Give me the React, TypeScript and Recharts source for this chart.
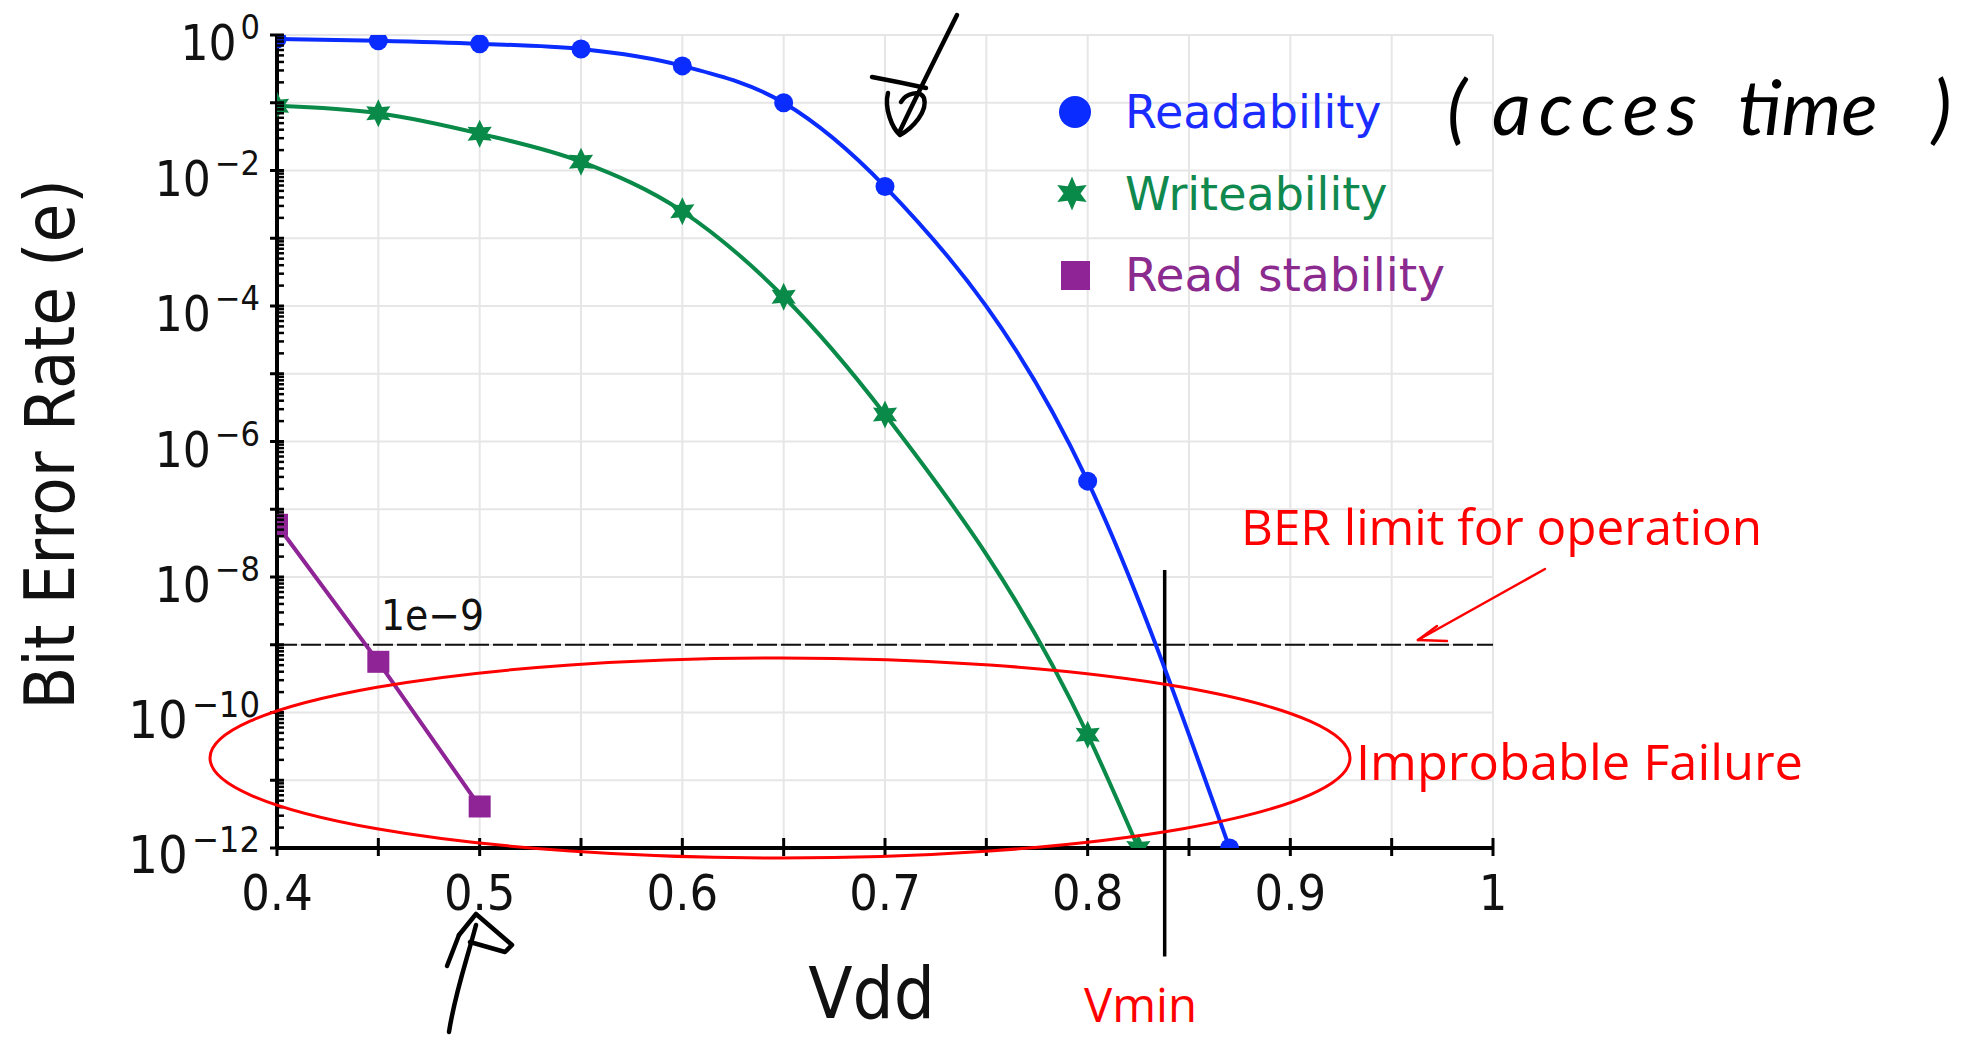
import React from 'react';
import { LineChart, Line, XAxis, YAxis, CartesianGrid, ReferenceLine, Legend, Label } from 'recharts';

// ---- data ----
const readVdd = [0.4, 0.45, 0.5, 0.55, 0.6, 0.65, 0.7, 0.8, 0.87];
const readBer = [0.87, 0.82, 0.74, 0.62, 0.35, 0.1, 5.8e-3, 2.6e-7, 1e-12];
const writeVdd = [0.4, 0.45, 0.5, 0.55, 0.6, 0.65, 0.7, 0.8, 0.825];
const writeBer = [0.09, 0.07, 0.035, 0.0135, 2.5e-3, 1.37e-4, 2.5e-6, 4.7e-11, 1e-12];
const stabVdd = [0.4, 0.45, 0.5];
const stabBer = [5.9e-8, 5.6e-10, 4.1e-12];

const xTicks = [0.4, 0.45, 0.5, 0.55, 0.6, 0.65, 0.7, 0.75, 0.8, 0.85, 0.9, 0.95, 1];
const decadeExps = [0, -1, -2, -3, -4, -5, -6, -7, -8, -9, -10, -11, -12];
const minorMults = [2, 3, 4, 5, 6, 7, 8, 9];
const berLimit = 1e-9;
const vminX = 0.838;
const vminTop = 1.27e-8;
const vminBottom = 2.5e-14;

const seriesNames = ['Readability', 'Writeability', 'Read stability'];
const seriesColors = ['#0b2cff', '#0a8a48', '#8e2496'];
const legendTextColors = ['#1a2cff', '#10894f', '#8b2a8f'];

const decadeValues = decadeExps.map((e) => Math.pow(10, e));
const yTicks = [
  ...decadeValues,
  ...decadeExps.filter((e) => e < 0).flatMap((e) => minorMults.map((k) => k * Math.pow(10, e))),
].sort((a, b) => a - b);

const readData = readVdd.map((x, i) => ({ x, y: readBer[i] }));
const writeData = writeVdd.map((x, i) => ({ x, y: writeBer[i] }));
const stabData = stabVdd.map((x, i) => ({ x, y: stabBer[i] }));

const CF = "'DejaVu Sans Condensed', 'DejaVu Sans', sans-serif";
const SF = "'DejaVu Sans', Verdana, sans-serif";
const RF = "'Open Sans', 'DejaVu Sans', sans-serif";

const starPath = (cx: number, cy: number, ro: number, ri: number) => {
  let d = '';
  for (let i = 0; i < 12; i++) {
    const r = i % 2 === 0 ? ro : ri;
    const a = (Math.PI / 6) * i - Math.PI / 2;
    d += (i === 0 ? 'M' : 'L') + (cx + r * Math.cos(a)).toFixed(2) + ' ' + (cy + r * Math.sin(a)).toFixed(2);
  }
  return d + 'Z';
};

const CircleDot = (p: any) => <circle key={p.key} cx={p.cx} cy={p.cy} r={9.5} fill={seriesColors[0]} />;
const StarDot = (p: any) => <path key={p.key} d={starPath(p.cx, p.cy, 14, 7.3)} fill={seriesColors[1]} />;
const SquareDot = (p: any) => <rect key={p.key} x={p.cx - 11} y={p.cy - 11} width={22} height={22} fill={seriesColors[2]} />;

const YTick = (props: any) => {
  const { x, y, payload } = props;
  const lg = Math.log10(payload.value);
  const e = Math.round(lg);
  const decade = Math.abs(lg - e) < 1e-6;
  if (!decade) {
    return <line x1={x} x2={x + 7} y1={y} y2={y} stroke="#000" strokeWidth={2.5} />;
  }
  const big = e <= -10;
  return (
    <g>
      <line x1={x - 7} x2={x + 7} y1={y} y2={y} stroke="#000" strokeWidth={3} />
      {e % 2 === 0 && (
        <text x={x - 17} y={y + 25} textAnchor="end" fontFamily={CF} fill="#111">
          <tspan fontSize={big ? 52 : 49}>10</tspan>
          <tspan fontSize={big ? 36 : 34} dx={4} dy={-21}>{e === 0 ? '0' : '\u2212' + -e}</tspan>
        </text>
      )}
    </g>
  );
};

const XTick = (props: any) => {
  const { x, y, payload } = props;
  const v = payload.value;
  const major = Math.abs(v * 10 - Math.round(v * 10)) < 1e-6;
  return (
    <g>
      <line x1={x} x2={x} y1={y - 10} y2={y + 8} stroke="#000" strokeWidth={3} />
      {major && (
        <text x={x} y={y + 62} textAnchor="middle" fontFamily={CF} fontSize={50} fill="#111">
          {String(Math.round(v * 10) / 10)}
        </text>
      )}
    </g>
  );
};

const YTitle = (props: any) => {
  const vb = props.viewBox;
  const cx = vb.x + 50;
  const cy = vb.y + vb.height / 2 + 3;
  return (
    <text x={cx} y={cy} transform={`rotate(-90 ${cx} ${cy})`} textAnchor="middle" dominantBaseline="central" fontFamily={CF} fontSize={70} fill="#111">
      Bit Error Rate (e)
    </text>
  );
};

const XTitle = (props: any) => {
  const vb = props.viewBox;
  return (
    <text x={vb.x + vb.width / 2 - 13.5} y={vb.y + 170} textAnchor="middle" fontFamily={CF} fontSize={72} fill="#111">
      Vdd
    </text>
  );
};

const LimitLabel = (props: any) => {
  const vb = props.viewBox;
  return (
    <text x={vb.x + 104} y={vb.y - 15} fontFamily={CF} fontSize={42} fill="#111">
      1e{'\u2212'}9
    </text>
  );
};

const LegendContent = () => {
  const rows = [0, 1, 2];
  return (
    <svg width={520} height={260} style={{ display: 'block' }}>
      {rows.map((i) => {
        const cy = 52 + i * 81.5;
        const mx = 35;
        return (
          <g key={i}>
            {i === 0 && <circle cx={mx} cy={cy} r={16} fill={seriesColors[0]} />}
            {i === 1 && <path d={starPath(mx - 3, cy, 17, 8.5)} fill={seriesColors[1]} />}
            {i === 2 && <rect x={mx - 14} y={cy - 14} width={29} height={29} fill={seriesColors[2]} />}
            <text x={85} y={cy + 16} fontFamily={SF} fontSize={i === 2 ? 47 : 46} fill={legendTextColors[i]}>
              {seriesNames[i]}
            </text>
          </g>
        );
      })}
    </svg>
  );
};

const W = 1979;
const H = 1039;

export default function App() {
  return (
    <div style={{ position: 'fixed', left: 0, top: 0, width: W, height: H, background: '#fff' }}>
      <LineChart width={W} height={H} margin={{ top: 35, right: 486, bottom: 0, left: 0 }}>
        <CartesianGrid
          stroke="#e6e6e6"
          strokeWidth={2}
          horizontalValues={decadeValues}
          verticalValues={xTicks}
        />
        <XAxis
          dataKey="x"
          type="number"
          domain={[0.4, 1]}
          ticks={xTicks}
          interval={0}
          allowDataOverflow
          height={191}
          tickSize={0}
          tickMargin={0}
          tickLine={false}
          tick={<XTick />}
          axisLine={{ stroke: '#000', strokeWidth: 4 }}
          label={<Label content={XTitle} />}
        />
        <YAxis
          dataKey="y"
          type="number"
          scale="log"
          domain={[1e-12, 1]}
          ticks={yTicks}
          interval={0}
          allowDataOverflow
          width={277}
          tickSize={0}
          tickMargin={0}
          tickLine={false}
          tick={<YTick />}
          axisLine={{ stroke: '#000', strokeWidth: 4 }}
          label={<Label content={YTitle} />}
        />
        <Legend
          layout="vertical"
          align="center"
          verticalAlign="middle"
          content={<LegendContent />}
          wrapperStyle={{ position: 'absolute', left: 1040, top: 60, width: 520, height: 260 }}
        />
        <ReferenceLine
          y={berLimit}
          stroke="#111"
          strokeWidth={2}
          strokeDasharray="20 4"
          ifOverflow="visible"
          label={LimitLabel}
        />
        <ReferenceLine
          segment={[
            { x: vminX, y: vminTop },
            { x: vminX, y: vminBottom },
          ]}
          stroke="#000"
          strokeWidth={3.5}
          ifOverflow="visible"
        />
        <Line
          data={readData}
          dataKey="y"
          name={seriesNames[0]}
          type="monotone"
          stroke={seriesColors[0]}
          strokeWidth={4}
          dot={CircleDot}
          activeDot={false}
          isAnimationActive={false}
        />
        <Line
          data={writeData}
          dataKey="y"
          name={seriesNames[1]}
          type="monotone"
          stroke={seriesColors[1]}
          strokeWidth={4}
          dot={StarDot}
          activeDot={false}
          isAnimationActive={false}
        />
        <Line
          data={stabData}
          dataKey="y"
          name={seriesNames[2]}
          type="linear"
          stroke={seriesColors[2]}
          strokeWidth={4}
          dot={SquareDot}
          activeDot={false}
          isAnimationActive={false}
        />
      </LineChart>
      <svg width={W} height={H} style={{ position: 'absolute', left: 0, top: 0, pointerEvents: 'none' }}>
        {/* red annotations */}
        <ellipse cx={780} cy={758} rx={570} ry={100} fill="none" stroke="#ff0000" strokeWidth={3} />
        <text x={1241} y={545} fontFamily={RF} fontSize={50} fill="#ff0000" textLength={521} lengthAdjust="spacingAndGlyphs">
          BER limit for operation
        </text>
        <text x={1356} y={780} fontFamily={RF} fontSize={50} fill="#ff0000" textLength={447} lengthAdjust="spacingAndGlyphs">
          Improbable Failure
        </text>
        <text x={1084} y={1022} fontFamily={RF} fontSize={48} fill="#ff0000" textLength={113} lengthAdjust="spacingAndGlyphs">
          Vmin
        </text>
        <g stroke="#ff0000" strokeWidth={2.5} fill="none" strokeLinecap="round">
          <line x1={1545} y1={569} x2={1418} y2={640} />
          <line x1={1418} y1={640} x2={1437} y2={626} />
          <line x1={1418} y1={640} x2={1447} y2={641} />
        </g>
        {/* handwriting */}
        <text y={135} fontFamily="Lato, 'DejaVu Sans', sans-serif" fontStyle="italic" fontSize={76} fill="#000">
          <tspan x={1447}>(</tspan>
          <tspan x={1492} letterSpacing={8}>acces</tspan>
          <tspan x={1738}>time</tspan>
          <tspan x={1932}>)</tspan>
        </text>
        <g stroke="#000" strokeWidth={4.5} fill="none" strokeLinecap="round" strokeLinejoin="round">
          <path d="M 957 15 C 938 53, 913 103, 899 133" />
          <path d="M 872 77 C 888 80, 908 84, 926 88" />
          <path d="M 888 93 C 884 108, 892 128, 900 135 C 913 128, 928 111, 924 98 C 920 90, 906 93, 901 102" />
          <path d="M 449 1032 C 455 993, 466 963, 476 925" />
          <path d="M 447 966 L 459 935" />
          <path d="M 459 935 L 476 914 L 512 945 L 505 952 L 470 942" />
        </g>
      </svg>
    </div>
  );
}
